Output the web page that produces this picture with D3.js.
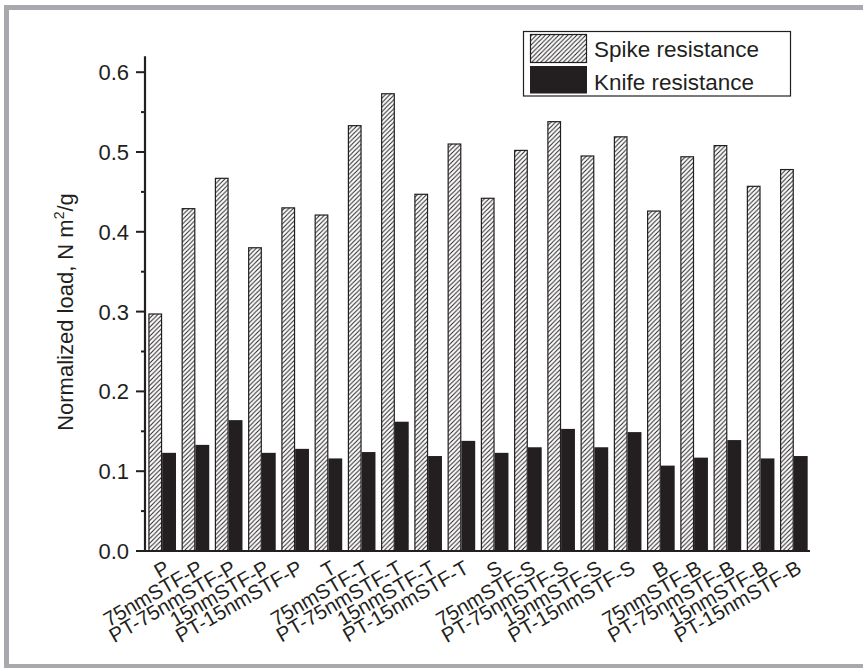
<!DOCTYPE html>
<html>
<head>
<meta charset="utf-8">
<script src="https://cdn.jsdelivr.net/npm/d3@7"></script>
<style>
  html, body { margin: 0; padding: 0; background: #fff; }
  svg { display: block; }
  text { font-family: "Liberation Sans", Arial, Helvetica, sans-serif; fill: #231f20; }
</style>
</head>
<body>
<svg id="chart" width="863" height="668"></svg>
<script>
// Fabric samples (x-axis categories)
const categories = [
  "P", "75nmSTF-P", "PT-75nmSTF-P", "15nmSTF-P", "PT-15nmSTF-P",
  "T", "75nmSTF-T", "PT-75nmSTF-T", "15nmSTF-T", "PT-15nmSTF-T",
  "S", "75nmSTF-S", "PT-75nmSTF-S", "15nmSTF-S", "PT-15nmSTF-S",
  "B", "75nmSTF-B", "PT-75nmSTF-B", "15nmSTF-B", "PT-15nmSTF-B"
];
// Normalized load, N m^2/g
const spikeValues = [0.297, 0.429, 0.467, 0.380, 0.430, 0.421, 0.533, 0.573, 0.447, 0.510,
                     0.442, 0.502, 0.538, 0.495, 0.519, 0.426, 0.494, 0.508, 0.457, 0.478];
const knifeValues = [0.123, 0.133, 0.164, 0.123, 0.128, 0.116, 0.124, 0.162, 0.119, 0.138,
                     0.123, 0.130, 0.153, 0.130, 0.149, 0.107, 0.117, 0.139, 0.116, 0.119];
const seriesNames = ["Spike resistance", "Knife resistance"];
const yTicks = [0.0, 0.1, 0.2, 0.3, 0.4, 0.5, 0.6];

const ink = "#231f20";
const svg = d3.select("#chart");

// outer gray frame
svg.append("rect")
  .attr("x", 6.5).attr("y", 7.5)
  .attr("width", 900).attr("height", 659)
  .attr("fill", "none").attr("stroke", "#a7a9ac").attr("stroke-width", 5);

// hatch pattern for spike bars
const defs = svg.append("defs");
const hs = 4.5;
defs.append("pattern")
  .attr("id", "hatch")
  .attr("patternUnits", "userSpaceOnUse")
  .attr("width", hs).attr("height", hs)
  .call(p => {
    p.append("rect").attr("width", hs).attr("height", hs).attr("fill", "#fff");
    p.append("path")
      .attr("d", `M${-hs / 2},${hs / 2} L${hs / 2},${-hs / 2} M0,${hs} L${hs},0 M${hs / 2},${hs * 1.5} L${hs * 1.5},${hs / 2}`)
      .attr("stroke", ink).attr("stroke-width", 1);
  });

const left = 145, right = 811, bottom = 551;
const x = d3.scaleBand().domain(categories).range([left, right])
  .paddingInner(0.168).paddingOuter(0.1);
const xs = d3.scaleBand().domain(seriesNames).range([0, x.bandwidth()]).padding(0);
const y = d3.scaleLinear().domain([0, 0.62]).range([bottom, bottom - 0.62 * 798]);

const rows = categories.map((c, i) => ({ cat: c, spike: spikeValues[i], knife: knifeValues[i] }));

// bars
const g = svg.append("g");
const groups = g.selectAll("g.grp").data(rows).join("g")
  .attr("class", "grp")
  .attr("transform", d => `translate(${x(d.cat)},0)`);

groups.append("rect")
  .attr("x", xs(seriesNames[0]) + 0.6)
  .attr("width", xs.bandwidth() - 1.2)
  .attr("y", d => y(d.spike))
  .attr("height", d => y(0) - y(d.spike))
  .attr("fill", "url(#hatch)")
  .attr("stroke", ink).attr("stroke-width", 1.2);

groups.append("rect")
  .attr("x", xs(seriesNames[1]))
  .attr("width", xs.bandwidth())
  .attr("y", d => y(d.knife))
  .attr("height", d => y(0) - y(d.knife))
  .attr("fill", ink);

// y axis
const yAxis = svg.append("g");
yAxis.append("line")
  .attr("x1", left).attr("x2", left)
  .attr("y1", y(0) + 1).attr("y2", y(0.62))
  .attr("stroke", ink).attr("stroke-width", 2.2);
const minor = d3.range(0.05, 0.61, 0.1);
yAxis.selectAll("line.minor").data(minor).join("line")
  .attr("class", "minor")
  .attr("x1", left - 4).attr("x2", left)
  .attr("y1", d => y(d)).attr("y2", d => y(d))
  .attr("stroke", ink).attr("stroke-width", 2);
yAxis.selectAll("line.major").data(yTicks).join("line")
  .attr("class", "major")
  .attr("x1", left - 9).attr("x2", left)
  .attr("y1", d => y(d)).attr("y2", d => y(d))
  .attr("stroke", ink).attr("stroke-width", 2);
yAxis.selectAll("text").data(yTicks).join("text")
  .attr("x", left - 16)
  .attr("y", d => y(d))
  .attr("dy", "0.36em")
  .attr("text-anchor", "end")
  .attr("font-size", 22)
  .text(d => d3.format(".1f")(d));

// x axis
svg.append("line")
  .attr("x1", left - 1).attr("x2", right - 1)
  .attr("y1", bottom).attr("y2", bottom)
  .attr("stroke", ink).attr("stroke-width", 2.2);

// rotated category labels
svg.append("g").selectAll("text").data(categories).join("text")
  .attr("text-anchor", "end")
  .attr("font-size", 20.5)
  .attr("transform", d => `translate(${x(d) + x.bandwidth() / 2 + 9},${bottom + 21}) rotate(-30)`)
  .text(d => d);

// y axis title
const yt = svg.append("text")
  .attr("transform", `translate(73,312) rotate(-90)`)
  .attr("text-anchor", "middle")
  .attr("font-size", 22);
yt.append("tspan").text("Normalized load, N m");
yt.append("tspan").attr("font-size", 14).attr("dy", -9).text("2");
yt.append("tspan").attr("dy", 9).text("/g");

// legend
const lg = svg.append("g");
lg.append("rect")
  .attr("x", 523.5).attr("y", 31.5)
  .attr("width", 267).attr("height", 64.5)
  .attr("fill", "#fff").attr("stroke", ink).attr("stroke-width", 1.2);
lg.append("rect")
  .attr("x", 530.5).attr("y", 34.5).attr("width", 56).attr("height", 28)
  .attr("fill", "url(#hatch)").attr("stroke", ink).attr("stroke-width", 1.2);
lg.append("rect")
  .attr("x", 530).attr("y", 66).attr("width", 57).attr("height", 27.5)
  .attr("fill", ink);
lg.selectAll("text").data(seriesNames).join("text")
  .attr("x", 594)
  .attr("y", (d, i) => 56.5 + i * 33)
  .attr("font-size", 22.5)
  .text(d => d);
</script>
</body>
</html>
